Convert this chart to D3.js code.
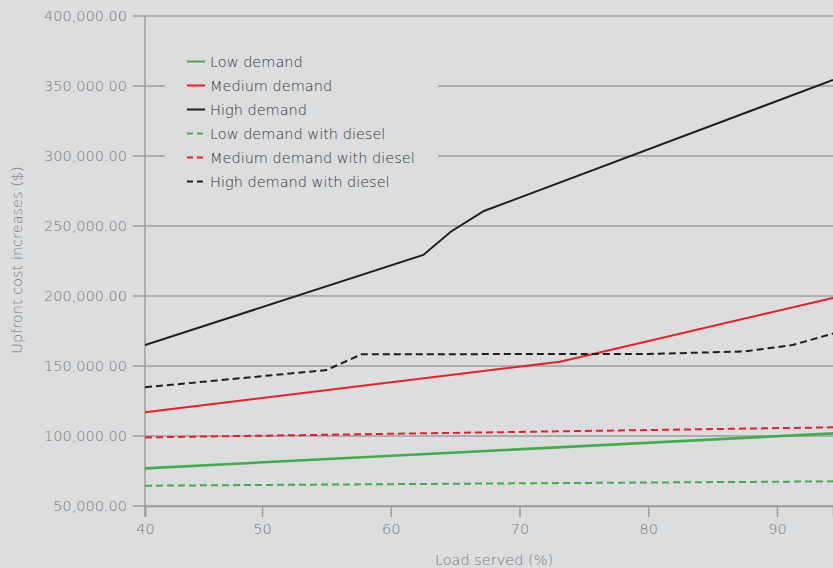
<!DOCTYPE html>
<html>
<head>
<meta charset="utf-8">
<script src="https://cdn.jsdelivr.net/npm/d3@7"></script>
<style>
  html, body { margin: 0; padding: 0; background: #dcdddf; }
  svg { display: block; font-family: "DejaVu Sans", sans-serif; font-weight: 200; }
</style>
</head>
<body>
<svg id="chart" width="833" height="568"></svg>
<script>
// ---- Data ----
const xTicks = [40, 50, 60, 70, 80, 90];
const yTicks = [50000, 100000, 150000, 200000, 250000, 300000, 350000, 400000];

const lowDemand = [[40, 76900], [94.35, 101900]];
const mediumDemand = [[40, 116900], [73.15, 153100], [94.35, 198600]];
const highDemand = [[40, 165000], [62.53, 229300], [64.66, 245900], [67.24, 260700], [94.35, 354300]];
const lowDiesel = [[40, 64500], [94.35, 67600]];
const mediumDiesel = [[40, 99000], [94.35, 106200]];
const highDiesel = [[40, 134800], [55.0, 147100], [57.74, 158400], [80, 158600], [87.5, 160400], [91.2, 165000], [94.35, 173200]];

const seriesNames = ["Low demand", "Medium demand", "High demand",
  "Low demand with diesel", "Medium demand with diesel", "High demand with diesel"];
const seriesData = [lowDemand, mediumDemand, highDemand, lowDiesel, mediumDiesel, highDiesel];
const seriesColors = ["#43ad4c", "#ee1c25", "#1e1e1e", "#43ad4c", "#ee1c25", "#1e1e1e"];
const seriesDashed = [false, false, false, true, true, true];

// ---- Chart ----
const svg = d3.select("#chart");
const W = 833, H = 568;
const textColor = "#78797b";
const gridColor = "#9c9d9f";

const x = d3.scaleLinear().domain([40, 50, 94.35]).range([145, 262, 833]);
const y = d3.scaleLinear().domain([50000, 400000]).range([506, 16]);

// gridlines
const gGrid = svg.append("g");
gGrid.selectAll("line").data(yTicks).join("line")
  .attr("x1", 133).attr("x2", W)
  .attr("y1", d => y(d)).attr("y2", d => y(d))
  .attr("stroke", gridColor).attr("stroke-width", 1.5);

// y axis
const yAxis = d3.axisLeft(y).tickValues(yTicks).tickSize(0).tickPadding(0)
  .tickFormat(d => d3.format(",.2f")(d));
const gy = svg.append("g").attr("transform", "translate(127,0)").call(yAxis);
gy.select(".domain").remove();
gy.selectAll("text").attr("fill", textColor).attr("font-size", 14.5)
  .attr("font-family", "DejaVu Sans").attr("font-weight", 200);

// vertical axis line
svg.append("line").attr("x1", 145).attr("x2", 145).attr("y1", 16).attr("y2", 517)
  .attr("stroke", gridColor).attr("stroke-width", 1.5);

// x axis
const xAxis = d3.axisBottom(x).tickValues(xTicks).tickSize(11).tickPadding(7).tickFormat(d3.format("d"));
const gx = svg.append("g").attr("transform", "translate(0,506)").call(xAxis);
gx.select(".domain").attr("stroke", gridColor).attr("stroke-width", 1.5);
gx.selectAll(".tick line").attr("stroke", gridColor).attr("stroke-width", 1.5);
gx.selectAll("text").attr("fill", textColor).attr("font-size", 14.5)
  .attr("font-family", "DejaVu Sans").attr("font-weight", 200);

// axis titles
svg.append("text").attr("x", 494).attr("y", 565).attr("text-anchor", "middle")
  .attr("fill", textColor).attr("font-size", 14.5).text("Load served (%)");
svg.append("text").attr("transform", "translate(22,260) rotate(-90)").attr("text-anchor", "middle")
  .attr("fill", textColor).attr("font-size", 14.5).text("Upfront cost increases ($)");

// legend background (covers gridlines)
svg.append("rect").attr("x", 165).attr("y", 45).attr("width", 273).attr("height", 152).attr("fill", "#dcdddf");

// lines
const line = d3.line().x(d => x(d[0])).y(d => y(d[1]));
svg.append("clipPath").attr("id", "clip").append("rect")
  .attr("x", 145).attr("y", 0).attr("width", W - 145).attr("height", 506);
const gLines = svg.append("g").attr("clip-path", "url(#clip)");
seriesData.forEach((data, i) => {
  gLines.append("path").datum(data)
    .attr("d", line)
    .attr("fill", "none")
    .attr("stroke", seriesColors[i])
    .attr("stroke-width", i === 0 ? 2.6 : 2)
    .attr("stroke-dasharray", seriesDashed[i] ? "7,4" : null);
});

// legend
const gLeg = svg.append("g");
seriesNames.forEach((name, i) => {
  const yy = 61.5 + i * 24;
  gLeg.append("line").attr("x1", 187).attr("x2", 205).attr("y1", yy).attr("y2", yy)
    .attr("stroke", seriesColors[i]).attr("stroke-width", 2)
    .attr("stroke-dasharray", seriesDashed[i] ? "6,4" : null);
  gLeg.append("text").attr("x", 210).attr("y", yy).attr("dy", "0.35em")
    .attr("fill", "#333436").attr("font-size", 14.5).text(name);
});
</script>
</body>
</html>
